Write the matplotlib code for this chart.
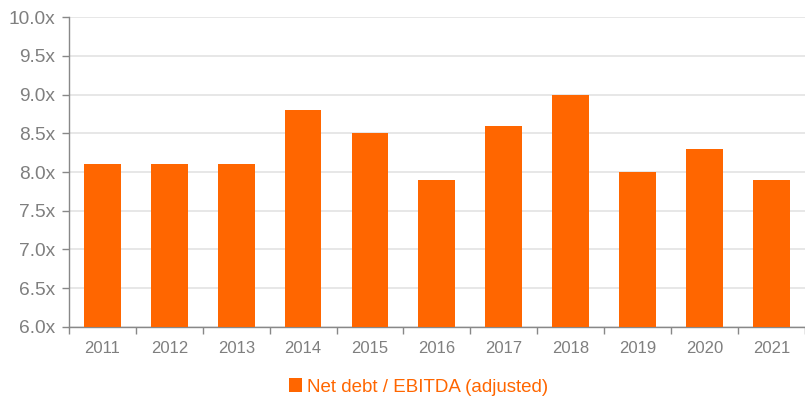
import matplotlib
matplotlib.use('Agg')
import matplotlib.pyplot as plt
import numpy as np
from matplotlib.ticker import FuncFormatter

plt.rcParams['font.family'] = ['Liberation Sans', 'DejaVu Sans']

years = ['2011', '2012', '2013', '2014', '2015', '2016', '2017', '2018', '2019', '2020', '2021']
ratio = [8.1, 8.1, 8.1, 8.8, 8.5, 7.9, 8.6, 9.0, 8.0, 8.3, 7.9]

orange = '#FF6600'
grey_txt = '#7F7F7F'

fig = plt.figure(figsize=(8.05, 3.99), dpi=100)
ax = fig.add_axes([0.0857, 0.1805, 0.914, 0.7768])

x = np.arange(len(years))
bars = ax.bar(x, ratio, width=0.55, color=orange, zorder=3, label='Net debt / EBITDA (adjusted)')

ax.set_ylim(6.0, 10.0)
ax.set_xlim(-0.5, len(years) - 0.5)
ax.set_yticks(np.arange(6.0, 10.01, 0.5))
ax.yaxis.set_major_formatter(FuncFormatter(lambda v, p: f'{v:.1f}x'))
ax.yaxis.grid(True, color='#E3E3E3', linewidth=1.2, zorder=0)

# category labels centred, tick marks between categories
ax.set_xticks(x)
ax.set_xticklabels(years)
ax.tick_params(axis='x', length=0, pad=10, labelsize=12, labelcolor=grey_txt)
ax.set_xticks(np.arange(-0.5, len(years), 1.0), minor=True)
ax.tick_params(axis='x', which='minor', length=5, color='#888888', width=1)
ax.tick_params(axis='y', length=5, color='#888888', width=1, labelsize=13.8, labelcolor=grey_txt, pad=5)

for s in ['top', 'right']:
    ax.spines[s].set_visible(False)
for s in ['left', 'bottom']:
    ax.spines[s].set_color('#888888')
    ax.spines[s].set_linewidth(1)

leg = fig.legend(handles=[bars], loc='center', bbox_to_anchor=(0.52, 0.03), frameon=False,
                 fontsize=13.5, handlelength=0.7, handleheight=0.7, handletextpad=0.3)
for t in leg.get_texts():
    t.set_color(orange)

fig.savefig('out.png', dpi=100)
